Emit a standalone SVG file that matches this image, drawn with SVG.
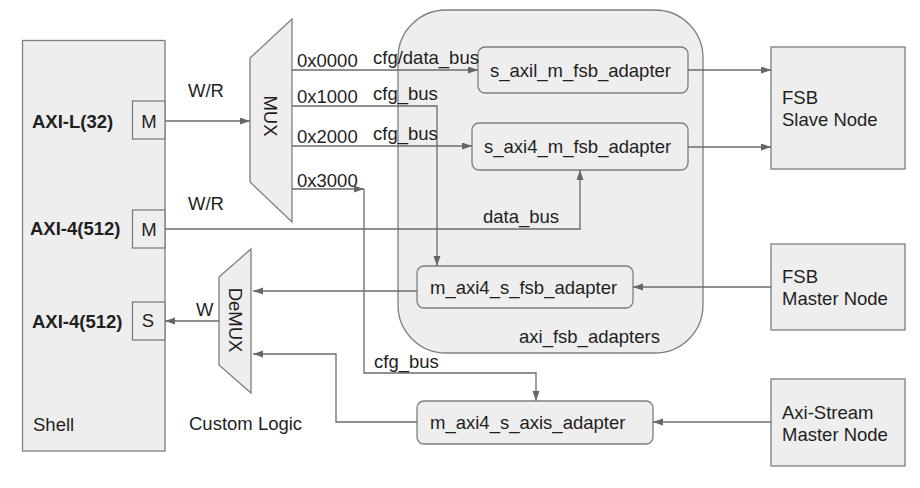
<svg xmlns="http://www.w3.org/2000/svg" width="920" height="488" viewBox="0 0 920 488">
<defs>
<marker id="arr" markerUnits="userSpaceOnUse" markerWidth="11" markerHeight="8" refX="10" refY="3.5" orient="auto">
<path d="M0,0 L10,3.5 L0,7 z" fill="#666"/>
</marker>
<style>
.box{fill:#eeeeee;stroke:#7f7f7f;stroke-width:1.3}
.rbox{fill:#eeeeee;stroke:#7f7f7f;stroke-width:1.3}
.ln{fill:none;stroke:#6b6b6b;stroke-width:1.3}
.ar{fill:none;stroke:#6b6b6b;stroke-width:1.3;marker-end:url(#arr)}
text{font-family:"Liberation Sans",Arial,sans-serif;font-size:18.5px;fill:#1f1f1f}
.b{font-weight:bold}
</style>
</defs>
<rect width="920" height="488" fill="#ffffff"/>

<g id="shell">
<rect class="box" x="22.5" y="40.5" width="142.5" height="410.5"/>
<text x="33" y="431">Shell</text>
</g>
<g id="port-axil">
<rect class="box" x="132.5" y="101" width="32.5" height="38"/>
<text x="149" y="128" text-anchor="middle">M</text>
<text class="b" x="32" y="128">AXI-L(32)</text>
</g>
<g id="port-axi4-m">
<rect class="box" x="132.5" y="210" width="32.5" height="38"/>
<text x="149" y="236" text-anchor="middle">M</text>
<text class="b" x="30" y="235">AXI-4(512)</text>
</g>
<g id="port-axi4-s">
<rect class="box" x="132.5" y="302" width="32.5" height="38"/>
<text x="148" y="327" text-anchor="middle">S</text>
<text class="b" x="32" y="328">AXI-4(512)</text>
</g>

<g id="mux">
<polygon class="box" points="250,58 292,19 292,222 250,182"/>
<g transform="translate(270,116) rotate(90)"><text x="0" y="6.5" text-anchor="middle">MUX</text></g>
</g>
<g id="demux">
<polygon class="box" points="219,277 251,249 251,393 219,365"/>
<g transform="translate(235,320) rotate(90)"><text x="0" y="6.5" text-anchor="middle">DeMUX</text></g>
</g>
<g id="custom-logic">
<text x="189" y="430">Custom Logic</text>
</g>

<g id="axi_fsb_adapters">
<rect class="rbox" x="398" y="10" width="305" height="343" rx="48" ry="48"/>
<text x="519" y="343">axi_fsb_adapters</text>
</g>
<g id="s_axil_m_fsb_adapter">
<rect class="rbox" x="478" y="47" width="210" height="46" rx="7"/>
<text x="490" y="77">s_axil_m_fsb_adapter</text>
</g>
<g id="s_axi4_m_fsb_adapter">
<rect class="rbox" x="472" y="123" width="216" height="47" rx="7"/>
<text x="484" y="153">s_axi4_m_fsb_adapter</text>
</g>
<g id="m_axi4_s_fsb_adapter">
<rect class="rbox" x="417" y="266" width="216" height="42" rx="7"/>
<text x="430" y="294">m_axi4_s_fsb_adapter</text>
</g>
<g id="m_axi4_s_axis_adapter">
<rect class="rbox" x="417" y="401" width="236" height="43" rx="7"/>
<text x="430" y="429">m_axi4_s_axis_adapter</text>
</g>

<g id="fsb-slave">
<rect class="box" x="771" y="47" width="134" height="122"/>
<text x="782" y="104">FSB</text>
<text x="782" y="126">Slave Node</text>
</g>
<g id="fsb-master">
<rect class="box" x="771" y="244" width="134" height="86"/>
<text x="782" y="283">FSB</text>
<text x="782" y="305">Master Node</text>
</g>
<g id="axis-master">
<rect class="box" x="771" y="379" width="134" height="87"/>
<text x="782" y="419">Axi-Stream</text>
<text x="782" y="441">Master Node</text>
</g>

<g id="connectors">
<path class="ar" d="M165,121 H250"/>
<path class="ar" d="M165,229 H580 V170"/>
<path class="ar" d="M292,70 H478"/>
<path class="ar" d="M292,106 H437 V266"/>
<path class="ar" d="M292,146 H472"/>
<path class="ar" d="M292,189 H364"/>
<path class="ar" d="M364,189 V373 H536 V401"/>
<path class="ar" d="M688,70 H771"/>
<path class="ar" d="M688,147 H771"/>
<path class="ar" d="M771,287 H633"/>
<path class="ar" d="M417,291 H253"/>
<path class="ar" d="M771,422 H653"/>
<path class="ar" d="M417,422 H336 V354 H253"/>
<path class="ar" d="M219,321 H165"/>
</g>

<g id="labels">
<text x="188" y="97">W/R</text>
<text x="188" y="210">W/R</text>
<text x="196" y="316">W</text>
<text x="297" y="67">0x0000</text>
<text x="297" y="103">0x1000</text>
<text x="297" y="143">0x2000</text>
<text x="297" y="187">0x3000</text>
<text x="373" y="64">cfg/data_bus</text>
<text x="373" y="100">cfg_bus</text>
<text x="373" y="140">cfg_bus</text>
<text x="374" y="368">cfg_bus</text>
<text x="483" y="223">data_bus</text>
</g>
</svg>
